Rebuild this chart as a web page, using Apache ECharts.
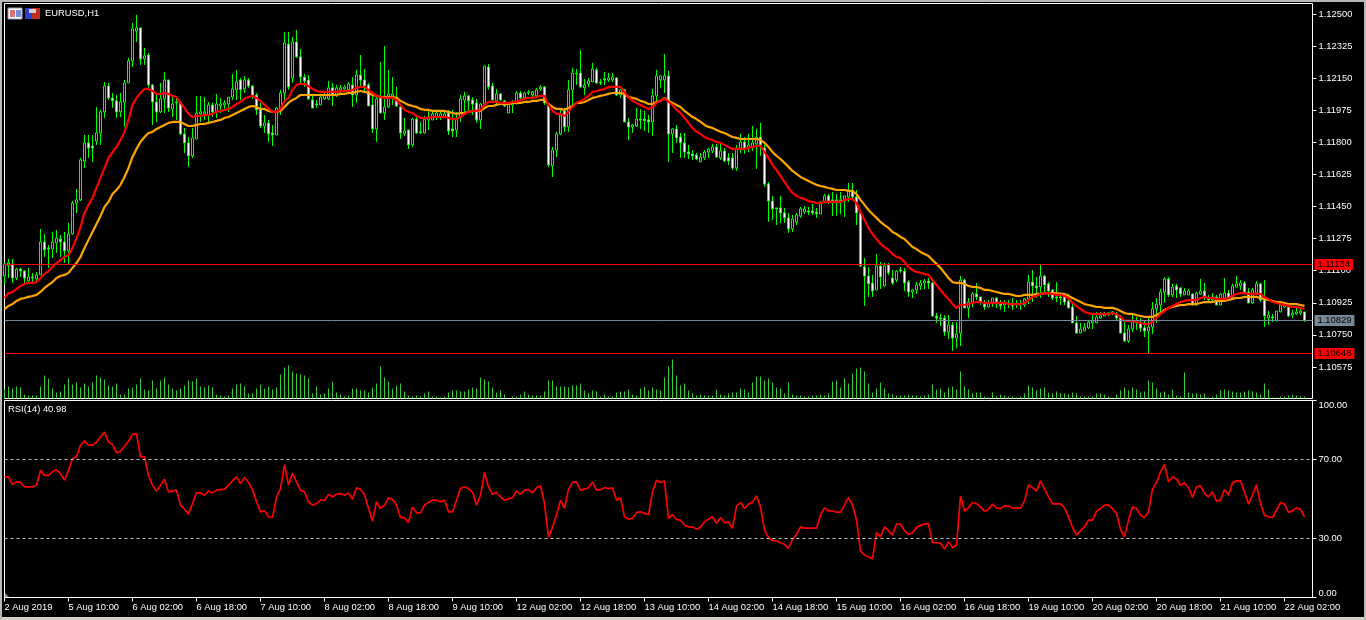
<!DOCTYPE html>
<html><head><meta charset="utf-8"><style>html,body{margin:0;padding:0;background:#000;overflow:hidden}#c{width:1366px;height:620px}</style>
<script src="https://cdn.jsdelivr.net/npm/echarts@6/dist/echarts.min.js"></script></head><body><div id="c"></div>
<script>
const openPrice=[
1.11071,1.11126,1.11137,1.11060,1.11109,1.11098,1.11044,1.11066,1.11055,1.11077,
1.11257,1.11224,1.11218,1.11251,1.11273,1.11257,1.11208,1.11300,1.11469,1.11486,
1.11698,1.11797,1.11780,1.11807,1.11851,1.11966,1.12107,1.12042,1.12026,1.11966,
1.12020,1.12124,1.12244,1.12407,1.12424,1.12255,1.12276,1.12113,1.12020,1.11966,
1.12037,1.12140,1.11982,1.12020,1.12020,1.11846,1.11797,1.11726,1.11818,1.11955,
1.11955,1.11949,1.12004,1.11966,1.11998,1.12004,1.12009,1.12047,1.12086,1.12140,
1.12091,1.12140,1.12107,1.12058,1.11987,1.11889,1.11906,1.11851,1.11840,1.11982,
1.12069,1.12336,1.12151,1.12347,1.12266,1.12156,1.12140,1.12031,1.12009,1.12004,
1.12037,1.12037,1.12097,1.12058,1.12086,1.12091,1.12086,1.12113,1.12058,1.12167,
1.12140,1.12113,1.12004,1.11873,1.12042,1.11960,1.11993,1.12053,1.12047,1.11993,
1.11846,1.11867,1.11786,1.11927,1.11857,1.11851,1.11922,1.11922,1.11938,1.11938,
1.11938,1.11960,1.11873,1.11867,1.11933,1.12031,1.12053,1.12031,1.12015,1.11922,
1.12009,1.12211,1.12107,1.12026,1.12064,1.12026,1.11960,1.12004,1.12009,1.12069,
1.12042,1.12069,1.12058,1.12053,1.12091,1.12102,1.12009,1.11671,1.11758,1.11846,
1.11971,1.11884,1.12086,1.12173,1.12178,1.12097,1.12118,1.12129,1.12195,1.12129,
1.12146,1.12140,1.12140,1.12151,1.12058,1.12086,1.11911,1.11884,1.11889,1.11927,
1.11927,1.11922,1.11911,1.12053,1.12140,1.12140,1.12162,1.11846,1.11873,1.11829,
1.11797,1.11747,1.11737,1.11731,1.11693,1.11715,1.11747,1.11753,1.11775,1.11715,
1.11753,1.11715,1.11715,1.11660,1.11769,1.11802,1.11769,1.11775,1.11791,1.11829,
1.11769,1.11573,1.11480,1.11442,1.11442,1.11415,1.11388,1.11328,1.11366,1.11398,
1.11420,1.11426,1.11426,1.11420,1.11409,1.11469,1.11508,1.11486,1.11486,1.11486,
1.11480,1.11502,1.11535,1.11502,1.11415,1.11120,1.11071,1.11033,1.10995,1.11126,
1.11017,1.11131,1.11060,1.11049,1.11104,1.11098,1.11038,1.10984,1.10995,1.11017,
1.11033,1.11044,1.11033,1.10853,1.10842,1.10842,1.10766,1.10804,1.10733,1.10760,
1.11049,1.10897,1.10929,1.10973,1.10957,1.10918,1.10902,1.10924,1.10951,1.10918,
1.10913,1.10924,1.10924,1.10918,1.10918,1.10913,1.10946,1.11038,1.11017,1.11011,
1.11071,1.11028,1.10995,1.10957,1.10957,1.10957,1.10935,1.10902,1.10815,1.10760,
1.10771,1.10788,1.10815,1.10815,1.10842,1.10853,1.10858,1.10869,1.10858,1.10842,
1.10760,1.10717,1.10782,1.10820,1.10815,1.10788,1.10771,1.10793,1.10891,1.10913,
1.10984,1.11055,1.10968,1.11017,1.11006,1.10968,1.10968,1.10973,1.10918,1.10973,
1.10989,1.10951,1.10940,1.10957,1.10913,1.10951,1.10978,1.10951,1.11011,1.11017,
1.11033,1.10984,1.10924,1.10978,1.11028,1.10940,1.10842,1.10848,1.10826,1.10875,
1.10902,1.10902,1.10858,1.10864,1.10869,1.10875];
const closePrice=[
1.11137,1.11142,1.11060,1.11109,1.11098,1.11060,1.11066,1.11060,1.11077,1.11257,
1.11213,1.11218,1.11257,1.11278,1.11257,1.11208,1.11300,1.11469,1.11486,1.11704,
1.11797,1.11769,1.11769,1.11851,1.11966,1.12107,1.12042,1.12026,1.11966,1.12020,
1.12124,1.12244,1.12418,1.12424,1.12255,1.12271,1.12113,1.12020,1.11966,1.12037,
1.12140,1.11987,1.12009,1.12015,1.11846,1.11797,1.11726,1.11824,1.11960,1.11966,
1.11966,1.12004,1.11966,1.12009,1.12009,1.12015,1.12047,1.12091,1.12129,1.12086,
1.12140,1.12107,1.12053,1.11977,1.11889,1.11906,1.11846,1.11840,1.11987,1.12069,
1.12342,1.12102,1.12347,1.12266,1.12156,1.12135,1.12037,1.11987,1.12004,1.12047,
1.12058,1.12097,1.12058,1.12097,1.12097,1.12102,1.12118,1.12058,1.12167,1.12140,
1.12107,1.11998,1.11873,1.12037,1.11960,1.11993,1.12064,1.12064,1.11998,1.11851,
1.11862,1.11786,1.11927,1.11851,1.11851,1.11927,1.11938,1.11955,1.11960,1.11955,
1.11955,1.11862,1.11862,1.11933,1.12037,1.12053,1.12026,1.12009,1.11922,1.12009,
1.12216,1.12102,1.12031,1.12064,1.12031,1.11998,1.12009,1.12015,1.12069,1.12042,
1.12069,1.12075,1.12075,1.12086,1.12102,1.12015,1.11677,1.11758,1.11846,1.11949,
1.11884,1.12086,1.12178,1.12178,1.12102,1.12113,1.12135,1.12200,1.12124,1.12124,
1.12140,1.12151,1.12156,1.12058,1.12086,1.11911,1.11884,1.11895,1.11927,1.11922,
1.11917,1.11911,1.12053,1.12162,1.12162,1.12162,1.11846,1.11873,1.11824,1.11797,
1.11747,1.11737,1.11726,1.11709,1.11720,1.11747,1.11764,1.11775,1.11720,1.11753,
1.11698,1.11698,1.11660,1.11769,1.11802,1.11769,1.11786,1.11797,1.11829,1.11786,
1.11573,1.11480,1.11437,1.11437,1.11415,1.11388,1.11328,1.11382,1.11404,1.11437,
1.11437,1.11420,1.11415,1.11409,1.11475,1.11508,1.11480,1.11475,1.11480,1.11480,
1.11508,1.11535,1.11502,1.11415,1.11126,1.11071,1.11028,1.10989,1.11126,1.11066,
1.11126,1.11088,1.11033,1.11098,1.11098,1.11033,1.10984,1.10995,1.11022,1.11033,
1.11044,1.11033,1.10853,1.10842,1.10837,1.10766,1.10804,1.10733,1.10755,1.11049,
1.10897,1.10929,1.10973,1.10957,1.10929,1.10902,1.10924,1.10951,1.10924,1.10908,
1.10924,1.10918,1.10908,1.10913,1.10913,1.10946,1.11038,1.11017,1.11006,1.11071,
1.11022,1.10989,1.10951,1.10951,1.10951,1.10929,1.10897,1.10815,1.10760,1.10782,
1.10793,1.10820,1.10826,1.10848,1.10858,1.10864,1.10869,1.10875,1.10842,1.10760,
1.10717,1.10782,1.10820,1.10815,1.10788,1.10771,1.10793,1.10891,1.10918,1.10984,
1.11055,1.10968,1.11011,1.10995,1.10973,1.10989,1.10989,1.10913,1.10978,1.10989,
1.10951,1.10940,1.10957,1.10913,1.10973,1.10978,1.10940,1.11017,1.11028,1.11033,
1.10984,1.10924,1.10995,1.11028,1.10940,1.10853,1.10858,1.10842,1.10880,1.10913,
1.10913,1.10853,1.10869,1.10875,1.10880,1.10829];
const highPrice=[
1.11148,1.11164,1.11164,1.11115,1.11115,1.11104,1.11115,1.11088,1.11093,1.11328,
1.11300,1.11240,1.11311,1.11322,1.11295,1.11311,1.11360,1.11480,1.11546,1.11715,
1.11840,1.11840,1.11840,1.11993,1.11977,1.12129,1.12124,1.12069,1.12058,1.12069,
1.12140,1.12260,1.12451,1.12495,1.12424,1.12315,1.12287,1.12118,1.12069,1.12124,
1.12184,1.12140,1.12047,1.12042,1.12020,1.11878,1.11829,1.11878,1.12053,1.12053,
1.12047,1.12020,1.12015,1.12064,1.12042,1.12031,1.12047,1.12173,1.12195,1.12151,
1.12162,1.12151,1.12113,1.12069,1.12015,1.11949,1.11922,1.11895,1.11993,1.12086,
1.12402,1.12402,1.12375,1.12413,1.12309,1.12173,1.12167,1.12058,1.12031,1.12064,
1.12069,1.12135,1.12124,1.12113,1.12113,1.12113,1.12129,1.12156,1.12195,1.12276,
1.12200,1.12124,1.12058,1.12058,1.12238,1.12325,1.12195,1.12156,1.12102,1.12004,
1.11933,1.11867,1.11933,1.11938,1.11911,1.11944,1.11977,1.11977,1.11977,1.11966,
1.11966,1.11977,1.11977,1.11966,1.12058,1.12075,1.12058,1.12047,1.12037,1.12015,
1.12216,1.12227,1.12124,1.12091,1.12069,1.12031,1.12020,1.12031,1.12080,1.12080,
1.12075,1.12086,1.12080,1.12097,1.12113,1.12107,1.12009,1.11775,1.11857,1.11977,
1.11987,1.12140,1.12206,1.12200,1.12304,1.12146,1.12151,1.12233,1.12206,1.12146,
1.12184,1.12178,1.12178,1.12156,1.12091,1.12091,1.11933,1.11900,1.11987,1.11982,
1.11971,1.11949,1.12091,1.12195,1.12162,1.12282,1.12189,1.11878,1.11895,1.11851,
1.11851,1.11786,1.11758,1.11742,1.11742,1.11758,1.11769,1.11791,1.11791,1.11791,
1.11769,1.11742,1.11742,1.11786,1.11846,1.11829,1.11846,1.11889,1.11873,1.11906,
1.11786,1.11584,1.11508,1.11442,1.11508,1.11442,1.11415,1.11404,1.11415,1.11448,
1.11453,1.11448,1.11464,1.11442,1.11475,1.11518,1.11518,1.11529,1.11518,1.11529,
1.11508,1.11578,1.11578,1.11540,1.11415,1.11169,1.11120,1.11077,1.11191,1.11148,
1.11142,1.11142,1.11104,1.11104,1.11120,1.11115,1.11049,1.11000,1.11038,1.11049,
1.11055,1.11060,1.11055,1.10869,1.10864,1.10858,1.10858,1.10820,1.10820,1.11071,
1.11055,1.10951,1.10984,1.11033,1.10957,1.10940,1.10940,1.10951,1.10957,1.10940,
1.10940,1.10940,1.10951,1.10940,1.10940,1.10951,1.11077,1.11104,1.11066,1.11131,
1.11077,1.11038,1.11000,1.11038,1.10984,1.10973,1.10973,1.10924,1.10853,1.10815,
1.10815,1.10831,1.10858,1.10875,1.10875,1.10875,1.10875,1.10880,1.10875,1.10858,
1.10831,1.10804,1.10858,1.10848,1.10842,1.10831,1.10848,1.10929,1.10951,1.11000,
1.11066,1.11066,1.11028,1.11028,1.11011,1.11006,1.11000,1.10978,1.10984,1.11055,
1.11033,1.10968,1.10978,1.10968,1.10978,1.11060,1.10995,1.11028,1.11071,1.11049,
1.11044,1.11006,1.11006,1.11044,1.11033,1.11049,1.10880,1.10864,1.10880,1.10924,
1.10918,1.10913,1.10886,1.10902,1.10902,1.10875];
const lowPrice=[
1.11022,1.11060,1.11033,1.11049,1.11066,1.11033,1.11033,1.11033,1.11038,1.11077,
1.11175,1.11115,1.11169,1.11197,1.11175,1.11142,1.11137,1.11295,1.11415,1.11480,
1.11660,1.11715,1.11693,1.11786,1.11786,1.11933,1.12031,1.11987,1.11933,1.11938,
1.11884,1.12124,1.12211,1.12347,1.12222,1.12222,1.12097,1.11895,1.11911,1.11960,
1.11960,1.11966,1.11938,1.11922,1.11840,1.11742,1.11666,1.11715,1.11818,1.11911,
1.11922,1.11906,1.11938,1.11933,1.11960,1.11977,1.11966,1.12031,1.12031,1.12031,
1.12069,1.12097,1.12037,1.11949,1.11878,1.11851,1.11802,1.11780,1.11840,1.11949,
1.12015,1.12086,1.12124,1.12260,1.12124,1.12102,1.12031,1.11987,1.11987,1.12004,
1.12031,1.12031,1.11998,1.12047,1.12058,1.12075,1.12069,1.11993,1.12015,1.12097,
1.12069,1.11998,1.11851,1.11802,1.11960,1.11922,1.11987,1.12004,1.11993,1.11818,
1.11835,1.11764,1.11775,1.11846,1.11846,1.11846,1.11867,1.11922,1.11922,1.11922,
1.11933,1.11840,1.11829,1.11829,1.11911,1.11960,1.11960,1.11949,1.11906,1.11873,
1.12004,1.12086,1.12026,1.12004,1.12026,1.11993,1.11960,1.11960,1.12009,1.12031,
1.12031,1.12058,1.12047,1.12047,1.12080,1.12004,1.11666,1.11611,1.11720,1.11840,
1.11857,1.11857,1.11987,1.12113,1.12097,1.12058,1.12102,1.12129,1.12118,1.12113,
1.12113,1.12129,1.12129,1.12053,1.12042,1.11911,1.11813,1.11851,1.11884,1.11873,
1.11862,1.11851,1.11835,1.12015,1.12097,1.12069,1.11693,1.11742,1.11797,1.11715,
1.11715,1.11709,1.11704,1.11704,1.11693,1.11704,1.11715,1.11742,1.11715,1.11704,
1.11693,1.11677,1.11649,1.11644,1.11742,1.11737,1.11747,1.11753,1.11655,1.11726,
1.11557,1.11366,1.11377,1.11349,1.11360,1.11360,1.11306,1.11311,1.11349,1.11388,
1.11409,1.11404,1.11404,1.11388,1.11409,1.11469,1.11464,1.11398,1.11398,1.11409,
1.11393,1.11475,1.11486,1.11349,1.11120,1.10908,1.10957,1.10957,1.10995,1.11000,
1.11011,1.11077,1.11022,1.11038,1.11088,1.10989,1.10957,1.10951,1.10973,1.10995,
1.11000,1.11000,1.10848,1.10815,1.10798,1.10744,1.10728,1.10662,1.10679,1.10689,
1.10897,1.10842,1.10902,1.10940,1.10913,1.10886,1.10902,1.10902,1.10897,1.10886,
1.10875,1.10897,1.10886,1.10897,1.10886,1.10902,1.10918,1.10929,1.10951,1.10951,
1.10978,1.10957,1.10940,1.10929,1.10913,1.10913,1.10897,1.10815,1.10760,1.10760,
1.10771,1.10782,1.10782,1.10815,1.10837,1.10853,1.10853,1.10858,1.10831,1.10760,
1.10711,1.10706,1.10766,1.10777,1.10766,1.10738,1.10651,1.10755,1.10815,1.10858,
1.10924,1.10957,1.10957,1.10951,1.10957,1.10968,1.10968,1.10913,1.10908,1.10968,
1.10940,1.10935,1.10929,1.10913,1.10913,1.10940,1.10940,1.10940,1.11006,1.10995,
1.10984,1.10924,1.10918,1.10978,1.10929,1.10793,1.10804,1.10820,1.10826,1.10875,
1.10897,1.10848,1.10842,1.10858,1.10858,1.10820];
const fastMA=[
1.10951,1.10978,1.10984,1.11000,1.11017,1.11028,1.11033,1.11033,1.11038,1.11060,
1.11082,1.11098,1.11120,1.11142,1.11158,1.11175,1.11186,1.11224,1.11278,1.11338,
1.11415,1.11459,1.11497,1.11551,1.11606,1.11660,1.11715,1.11747,1.11775,1.11813,
1.11857,1.11922,1.12004,1.12042,1.12069,1.12091,1.12091,1.12080,1.12064,1.12064,
1.12069,1.12064,1.12053,1.12047,1.12015,1.11987,1.11955,1.11938,1.11944,1.11944,
1.11949,1.11949,1.11955,1.11966,1.11971,1.11977,1.11982,1.11993,1.12009,1.12020,
1.12037,1.12047,1.12053,1.12042,1.12026,1.12004,1.11987,1.11966,1.11966,1.11982,
1.12026,1.12042,1.12086,1.12113,1.12118,1.12118,1.12107,1.12091,1.12080,1.12075,
1.12075,1.12075,1.12075,1.12075,1.12080,1.12080,1.12080,1.12086,1.12097,1.12102,
1.12102,1.12086,1.12069,1.12053,1.12047,1.12042,1.12042,1.12042,1.12031,1.12004,
1.11977,1.11966,1.11960,1.11944,1.11933,1.11933,1.11933,1.11938,1.11938,1.11938,
1.11938,1.11933,1.11927,1.11927,1.11938,1.11955,1.11966,1.11971,1.11971,1.11977,
1.12004,1.12020,1.12020,1.12020,1.12015,1.12015,1.12015,1.12020,1.12020,1.12031,
1.12037,1.12042,1.12042,1.12047,1.12053,1.12053,1.12004,1.11971,1.11955,1.11955,
1.11944,1.11966,1.11993,1.12015,1.12026,1.12037,1.12053,1.12075,1.12080,1.12086,
1.12091,1.12102,1.12102,1.12102,1.12102,1.12075,1.12047,1.12026,1.12015,1.12004,
1.11993,1.11982,1.11993,1.12015,1.12026,1.12042,1.12020,1.12004,1.11977,1.11960,
1.11933,1.11906,1.11878,1.11857,1.11846,1.11829,1.11818,1.11813,1.11802,1.11797,
1.11786,1.11775,1.11764,1.11764,1.11764,1.11764,1.11769,1.11775,1.11780,1.11780,
1.11747,1.11715,1.11677,1.11649,1.11617,1.11584,1.11551,1.11524,1.11508,1.11497,
1.11491,1.11480,1.11475,1.11469,1.11469,1.11475,1.11475,1.11475,1.11475,1.11475,
1.11486,1.11491,1.11491,1.11469,1.11420,1.11377,1.11333,1.11300,1.11273,1.11246,
1.11229,1.11213,1.11191,1.11175,1.11169,1.11148,1.11120,1.11104,1.11093,1.11088,
1.11082,1.11077,1.11049,1.11022,1.10995,1.10968,1.10946,1.10918,1.10897,1.10913,
1.10913,1.10918,1.10924,1.10929,1.10929,1.10924,1.10924,1.10924,1.10924,1.10924,
1.10924,1.10918,1.10918,1.10918,1.10918,1.10924,1.10940,1.10957,1.10962,1.10973,
1.10978,1.10978,1.10973,1.10968,1.10968,1.10962,1.10951,1.10924,1.10908,1.10891,
1.10875,1.10869,1.10864,1.10864,1.10864,1.10864,1.10864,1.10869,1.10864,1.10848,
1.10826,1.10826,1.10826,1.10820,1.10815,1.10809,1.10809,1.10820,1.10842,1.10864,
1.10880,1.10897,1.10908,1.10918,1.10929,1.10935,1.10940,1.10940,1.10940,1.10951,
1.10957,1.10951,1.10951,1.10946,1.10946,1.10946,1.10951,1.10962,1.10973,1.10978,
1.10978,1.10973,1.10973,1.10973,1.10973,1.10957,1.10946,1.10929,1.10924,1.10918,
1.10913,1.10908,1.10902,1.10902,1.10897,1.10891];
const slowMA=[
1.10891,1.10908,1.10918,1.10935,1.10946,1.10951,1.10957,1.10962,1.10968,1.10984,
1.11006,1.11022,1.11038,1.11060,1.11071,1.11077,1.11088,1.11115,1.11142,1.11175,
1.11224,1.11268,1.11311,1.11355,1.11398,1.11448,1.11475,1.11518,1.11540,1.11568,
1.11611,1.11660,1.11720,1.11764,1.11802,1.11829,1.11851,1.11857,1.11873,1.11884,
1.11895,1.11906,1.11911,1.11911,1.11911,1.11900,1.11889,1.11889,1.11895,1.11900,
1.11900,1.11906,1.11911,1.11917,1.11922,1.11933,1.11938,1.11949,1.11960,1.11971,
1.11982,1.11993,1.11998,1.11993,1.11982,1.11982,1.11971,1.11966,1.11966,1.11971,
1.11993,1.12015,1.12031,1.12042,1.12058,1.12058,1.12058,1.12058,1.12058,1.12058,
1.12058,1.12058,1.12058,1.12058,1.12064,1.12064,1.12069,1.12069,1.12075,1.12080,
1.12075,1.12069,1.12058,1.12053,1.12047,1.12047,1.12047,1.12047,1.12042,1.12026,
1.12015,1.12004,1.11998,1.11993,1.11982,1.11977,1.11977,1.11971,1.11971,1.11971,
1.11971,1.11966,1.11960,1.11955,1.11960,1.11960,1.11966,1.11971,1.11971,1.11971,
1.11987,1.11998,1.11998,1.12004,1.12009,1.12009,1.12009,1.12015,1.12015,1.12015,
1.12020,1.12020,1.12026,1.12026,1.12031,1.12031,1.12009,1.11993,1.11982,1.11982,
1.11977,1.11987,1.11998,1.12015,1.12015,1.12020,1.12031,1.12042,1.12047,1.12053,
1.12058,1.12064,1.12069,1.12069,1.12069,1.12064,1.12047,1.12042,1.12037,1.12026,
1.12020,1.12009,1.12009,1.12020,1.12026,1.12042,1.12026,1.12015,1.12004,1.11993,
1.11971,1.11955,1.11938,1.11927,1.11911,1.11895,1.11884,1.11878,1.11867,1.11857,
1.11851,1.11840,1.11829,1.11824,1.11818,1.11818,1.11818,1.11818,1.11818,1.11813,
1.11797,1.11775,1.11747,1.11726,1.11709,1.11688,1.11666,1.11644,1.11628,1.11611,
1.11600,1.11589,1.11578,1.11568,1.11562,1.11557,1.11551,1.11546,1.11540,1.11540,
1.11540,1.11535,1.11535,1.11518,1.11486,1.11459,1.11431,1.11409,1.11388,1.11366,
1.11349,1.11333,1.11311,1.11300,1.11284,1.11273,1.11251,1.11229,1.11218,1.11202,
1.11191,1.11180,1.11158,1.11137,1.11115,1.11088,1.11060,1.11038,1.11033,1.11033,
1.11028,1.11017,1.11011,1.11011,1.11006,1.10995,1.10995,1.10989,1.10984,1.10978,
1.10973,1.10973,1.10968,1.10962,1.10962,1.10968,1.10968,1.10968,1.10973,1.10973,
1.10978,1.10978,1.10978,1.10978,1.10973,1.10973,1.10962,1.10951,1.10940,1.10929,
1.10918,1.10913,1.10908,1.10902,1.10902,1.10897,1.10897,1.10897,1.10891,1.10880,
1.10869,1.10864,1.10864,1.10858,1.10853,1.10848,1.10848,1.10848,1.10858,1.10869,
1.10886,1.10897,1.10902,1.10908,1.10913,1.10913,1.10918,1.10918,1.10918,1.10924,
1.10929,1.10929,1.10929,1.10935,1.10935,1.10935,1.10940,1.10946,1.10951,1.10951,
1.10957,1.10957,1.10957,1.10957,1.10951,1.10946,1.10940,1.10935,1.10929,1.10929,
1.10924,1.10918,1.10918,1.10918,1.10913,1.10908];
const tickVolume=[
9,12,10,12,11,4,3,3,3,12,
23,20,10,6,7,14,20,14,16,11,
15,12,16,23,21,19,13,12,15,4,
4,10,11,14,20,9,8,18,10,18,
21,14,10,8,10,13,18,17,20,12,
11,13,11,4,3,2,3,10,14,15,
12,5,5,10,14,10,12,9,11,24,
31,33,27,25,24,23,20,5,12,4,
5,10,17,6,4,2,3,10,10,8,
8,6,11,15,32,21,17,10,13,15,
7,3,2,3,2,5,7,2,2,1,
2,6,8,8,7,7,9,11,10,21,
19,17,11,6,8,4,0,2,2,4,
7,4,3,3,3,7,18,18,12,12,
12,11,13,13,15,8,5,8,7,2,
4,2,2,6,7,7,9,4,3,10,
12,8,11,9,8,21,32,39,23,13,
15,8,5,3,4,3,3,3,9,4,
3,5,6,6,10,9,6,16,22,22,
18,20,16,11,10,5,16,4,3,3,
2,2,3,3,4,3,5,17,18,11,
20,15,25,30,31,27,15,6,10,16,
10,5,4,3,3,3,4,3,3,2,
3,4,14,9,10,6,11,12,9,27,
12,9,5,6,6,2,1,6,2,4,
3,2,2,1,2,5,13,11,8,10,
11,6,5,7,5,5,4,6,5,2,
2,2,2,5,5,4,2,1,4,8,
11,8,11,9,6,7,18,16,10,6,
7,4,9,3,2,26,6,5,5,4,
5,1,2,4,8,9,8,7,6,6,
7,8,7,6,4,15,9,1,1,2,
2,3,4,3,2,2];
const rsiValues=[
61.2,61.2,57.3,58.7,58.4,56.2,56.2,56.2,57,64.6,
62,62,63.8,64.8,62.9,59.5,64.6,70.5,71.4,77.3,
79.5,77.3,77.3,78.9,81.5,84,78.9,77.6,73.4,74.2,
76.8,79.3,82.8,83.2,71.4,71.4,62,57,54,57,
60,53.6,54,54.6,46.9,44.8,42.3,47.7,53.1,53.1,
51.9,54.1,53.1,54.5,54.8,55,57,59.2,61.2,57.8,
60.9,58.4,54.5,48.6,43.5,44,41,40.6,51.1,55.3,
67.5,57,63.2,58.7,54.5,53.6,48.6,46.9,47.7,49.4,
49.4,52.3,51.1,52.4,52.8,51.9,53.1,49.9,55.7,54.8,
52.3,45.2,38.8,48.6,45.2,46.9,50.6,49.7,46.9,40.5,
40.5,37.9,46,43,43,46.9,48.2,49.4,49.4,48.6,
49.4,43.5,43.5,49.4,55.3,56.2,55.3,53.6,46.9,51.9,
63.4,56.2,52.4,53.3,51.1,49.4,50.1,50.6,54.1,52.3,
54.5,54.8,53.1,55.7,56.7,47.7,30.5,35.6,41.8,49.4,
45.2,54.8,58.4,58.7,54.5,55,55.7,58.7,54.5,54.8,
55.7,55.3,55.7,49.4,50.6,41,39.8,40.1,43.2,43.5,
42.7,42.1,53.6,59.5,58.4,59.2,40.1,42.1,39.6,39.3,
36.7,35.9,35.9,34.7,35.6,38.4,39.8,41,37.6,40.6,
37.9,38.4,35.1,46.4,48.2,45.2,47.4,48.4,51.6,46,
34.2,30.5,28.8,28.8,27.8,27,24.9,29.5,32,35.9,
35.2,35.2,35.2,35.2,41.8,45.5,44,44,43.3,43.3,
46.9,50.8,46.9,39.3,23.6,21.6,20.7,19.5,33,30.8,
35.9,33.9,31.7,37.3,37.3,33.9,32,32.9,35.6,36.6,
37.4,37.4,27.8,27.8,27.5,24.6,28.3,25.4,26.6,51.6,
43.8,45.5,48.2,47.7,46,43.8,44.7,47.4,45.4,45.2,
46.4,46.4,45.4,45.4,45.4,48.9,57.3,55.8,54,59.2,
55,51.1,47.5,47.5,47.5,45.5,41,35.6,31.7,33.9,
35.9,39.3,39.3,43.8,45.2,46.9,46.9,45.2,42.7,34.6,
30.8,39.3,46,45.2,41.8,40.6,43.5,55,58.4,63.8,
67.6,58.7,61.2,60,57,58.2,55.7,50.8,56.2,56.7,
52.8,51.1,53.6,48.9,49.4,54.8,51.9,58.2,59.2,59.2,
53.6,47.4,51.9,57.3,47.7,41.8,41,40.6,44.3,48.2,
47.4,43.2,44,45.5,44.8,40.98];
const timeLabels=['2 Aug 2019','5 Aug 10:00','6 Aug 02:00','6 Aug 18:00','7 Aug 10:00','8 Aug 02:00','8 Aug 18:00','9 Aug 10:00','12 Aug 02:00','12 Aug 18:00','13 Aug 10:00','14 Aug 02:00','14 Aug 18:00','15 Aug 10:00','16 Aug 02:00','16 Aug 18:00','19 Aug 10:00','20 Aug 02:00','20 Aug 18:00','21 Aug 10:00','22 Aug 02:00'];
const priceTicks=[1.10575,1.1075,1.10925,1.111,1.11275,1.1145,1.11625,1.118,1.11975,1.1215,1.12325,1.125];
const rsiTicks=[0,30,70,100];
const rsiLevels=[70,30];
const redLevels=[1.11134,1.10648];
const lastPrice=1.10829;

const FONT='"Liberation Sans",sans-serif';
const F=9.4;
const slots=328;
const categories=[];
for(let i=0;i<slots;i++)categories.push(i%16===0&&timeLabels[i/16]?timeLabels[i/16]:'');
const candles=closePrice.map((c,i)=>[openPrice[i],c,lowPrice[i],highPrice[i]]);
const L=4.5,W=1308;
const hiddenX=gi=>({type:'category',gridIndex:gi,boundaryGap:false,data:categories,axisLine:{show:false},axisTick:{show:false},axisLabel:{show:false},splitLine:{show:false}});
const levelLabel=(bg,fg)=>({show:true,position:'end',distance:2,formatter:p=>p.value.toFixed(5),color:fg,backgroundColor:bg,fontFamily:FONT,fontSize:F,padding:[1,3,0,3],height:10,lineHeight:10});
const option={
 animation:false,backgroundColor:'#000',
 grid:[
  {left:L,top:3.5,width:W,height:395,show:true,borderColor:'#fff',borderWidth:1,backgroundColor:'#000'},
  {left:L,top:358.5,width:W,height:40,show:false},
  {left:L,top:400.5,width:W,height:197,show:true,borderColor:'#fff',borderWidth:1,backgroundColor:'#000'}
 ],
 xAxis:[hiddenX(0),hiddenX(1),{type:'category',gridIndex:2,boundaryGap:false,data:categories,
   axisLine:{lineStyle:{color:'#fff'}},
   axisTick:{interval:15,length:4,lineStyle:{color:'#fff'}},
   axisLabel:{interval:15,align:'left',color:'#fff',fontFamily:FONT,fontSize:F,margin:5,showMinLabel:true},
   splitLine:{show:false}}],
 yAxis:[
  {type:'value',gridIndex:0,position:'right',min:1.10403,max:1.12557,z:1,
   axisLine:{show:false},splitLine:{show:false},
   axisTick:{show:true,length:4,lineStyle:{color:'#fff'},customValues:priceTicks},
   axisLabel:{color:'#fff',fontFamily:FONT,fontSize:F,margin:6,customValues:priceTicks,formatter:v=>v.toFixed(5)}},
  {type:'value',gridIndex:1,min:0,max:40,show:false},
  {type:'value',gridIndex:2,position:'right',min:0,max:100,z:1,
   axisLine:{show:false},splitLine:{show:false},
   axisTick:{show:true,length:4,lineStyle:{color:'#fff'},customValues:rsiTicks},
   axisLabel:{color:'#fff',fontFamily:FONT,fontSize:F,margin:6,customValues:rsiTicks,verticalAlignMaxLabel:'top',verticalAlignMinLabel:'bottom',formatter:v=>v.toFixed(2)}}
 ],
 series:[
  {name:'Volumes',type:'bar',xAxisIndex:1,yAxisIndex:1,data:tickVolume,barWidth:1,silent:true,itemStyle:{color:'#32CD32'},z:2},
  {name:'EURUSD,H1',type:'candlestick',xAxisIndex:0,yAxisIndex:0,data:candles,barWidth:3,silent:true,
   itemStyle:{color:'#000',color0:'#fff',borderColor:'#00ff00',borderColor0:'#00ff00',borderWidth:1},z:3,
   markLine:{silent:true,symbol:'none',animation:false,precision:5,z:30,zlevel:2,
    data:[
     {yAxis:redLevels[0],lineStyle:{color:'#ff0000',width:1,type:'solid'},label:levelLabel('#ff0000','#000')},
     {yAxis:lastPrice,lineStyle:{color:'#778899',width:1,type:'solid'},label:levelLabel('#778899','#000')},
     {yAxis:redLevels[1],lineStyle:{color:'#ff0000',width:1,type:'solid'},label:levelLabel('#ff0000','#000')}
    ]}},
  {name:'Slow MA',type:'line',xAxisIndex:0,yAxisIndex:0,data:slowMA,showSymbol:false,lineStyle:{color:'#FFA500',width:2.2},z:4,silent:true},
  {name:'Fast MA',type:'line',xAxisIndex:0,yAxisIndex:0,data:fastMA,showSymbol:false,lineStyle:{color:'#ff0000',width:2.2},z:5,silent:true},
  {name:'RSI(14)',type:'line',xAxisIndex:2,yAxisIndex:2,data:rsiValues,showSymbol:false,lineStyle:{color:'#ff0000',width:1.7},z:4,silent:true,
   markLine:{silent:true,symbol:'none',animation:false,label:{show:false},
    lineStyle:{color:'#c0c0c0',width:1,type:[3,3]},data:rsiLevels.map(v=>({yAxis:v}))}}
 ],
 graphic:[
  {type:'rect',shape:{x:0,y:0,width:1366,height:2},style:{fill:'#b8b8b8'},z:50},
  {type:'rect',shape:{x:0,y:617,width:1366,height:3},style:{fill:'#d4d0c8'},z:50},
  {type:'rect',shape:{x:0,y:0,width:2,height:620},style:{fill:'#b8b8b8'},z:50},
  {type:'rect',shape:{x:1364,y:0,width:2,height:620},style:{fill:'#b8b8b8'},z:50},
  {type:'text',left:45,top:9,style:{text:'EURUSD,H1',fill:'#fff',font:F+'px '+FONT},z:20},
  {type:'text',left:8,top:405,style:{text:'RSI(14) 40.98',fill:'#fff',font:F+'px '+FONT},z:20},
  {type:'rect',shape:{x:8,y:8,width:14,height:11},style:{fill:'#fff',stroke:'#9a9ab0',lineWidth:1},z:20},
  {type:'rect',shape:{x:10,y:10,width:5,height:7},style:{fill:'#e07070'},z:21},
  {type:'rect',shape:{x:16,y:10,width:5,height:7},style:{fill:'#7090d8'},z:21},
  {type:'rect',shape:{x:25,y:8,width:7,height:11},style:{fill:'#2a3fd0'},z:20},
  {type:'rect',shape:{x:32,y:8,width:8,height:11},style:{fill:'#c03020'},z:20},
  {type:'rect',shape:{x:29,y:9,width:7,height:4},style:{fill:'#d0d0d0'},z:21},
  {type:'polygon',shape:{points:[[5,597],[5,593],[9,597]]},style:{fill:'#778899'},z:20}
 ]
};
echarts.init(document.getElementById('c'),null,{renderer:'canvas'}).setOption(option);
</script></body></html>
